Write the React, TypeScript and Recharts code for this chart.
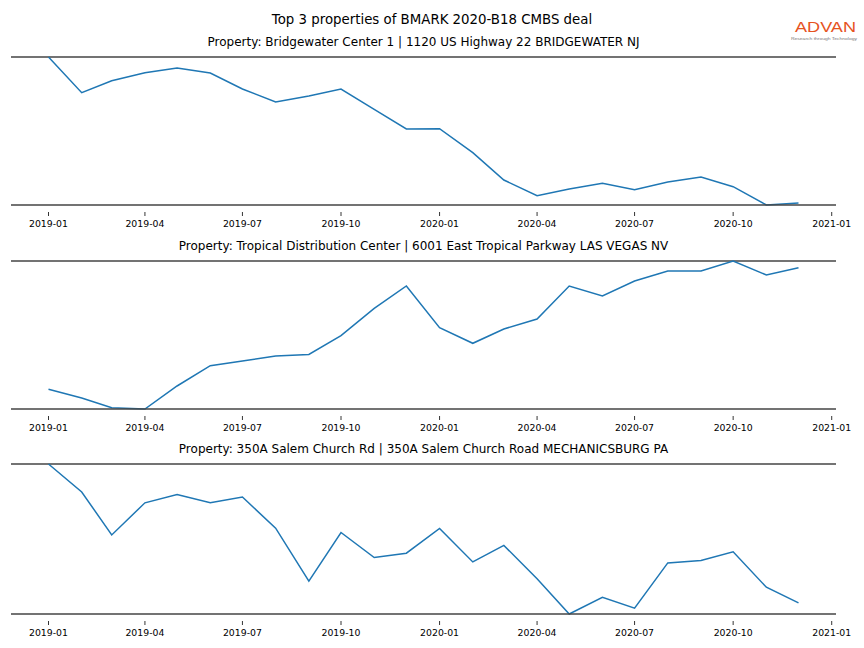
import React from "react";
import { LineChart, Line, XAxis, YAxis, ReferenceLine } from "recharts";

// Monthly observations, 2019-01 .. 2020-12
const months: string[] = [
  "2019-01", "2019-02", "2019-03", "2019-04", "2019-05", "2019-06",
  "2019-07", "2019-08", "2019-09", "2019-10", "2019-11", "2019-12",
  "2020-01", "2020-02", "2020-03", "2020-04", "2020-05", "2020-06",
  "2020-07", "2020-08", "2020-09", "2020-10", "2020-11", "2020-12",
];

const bridgewater: number[] = [
  148, 112.3, 124.3, 132.3, 137, 132, 116, 103, 109, 116, 95.7, 76,
  76.3, 52.3, 25, 9.3, 16, 21.7, 15.3, 23, 28, 18.3, 0, 2,
];

const tropical: number[] = [
  19.7, 11, 1.3, 0, 23, 43.3, 48, 53, 54.5, 73.3, 100.7, 123,
  81.3, 65.7, 80, 90, 123, 113, 128, 138, 138, 148, 134, 141.3,
];

const salemChurch: number[] = [
  148, 120.4, 78, 109.7, 118, 109.7, 115.4, 84.7, 32.4, 80.4, 55.7, 60,
  84.4, 51.4, 67.7, 34.7, 0, 16.4, 5.7, 50.4, 52.7, 61.4, 26.4, 11,
];

const tickLabels: string[] = [
  "2019-01", "2019-04", "2019-07", "2019-10", "2020-01",
  "2020-04", "2020-07", "2020-10", "2021-01",
];

const mainTitle = "Top 3 properties of BMARK 2020-B18 CMBS deal";
const subTitles: string[] = [
  "Property: Bridgewater Center 1 | 1120 US Highway 22 BRIDGEWATER NJ",
  "Property: Tropical Distribution Center | 6001 East Tropical Parkway LAS VEGAS NV",
  "Property: 350A Salem Church Rd | 350A Salem Church Road MECHANICSBURG PA",
];

const toTs = (s: string) => {
  const [y, m] = s.split("-").map(Number);
  return Date.UTC(y, m - 1, 1);
};

const DAY = 86400000;
const xs = months.map(toTs);
const span = xs[xs.length - 1] - xs[0];
const xDomain: [number, number] = [xs[0] - span * 0.05, xs[xs.length - 1] + span * 0.05];
const tickTs = tickLabels.map(toTs);

const fmt = (v: number) => {
  const d = new Date(v + DAY);
  const y = d.getUTCFullYear();
  const m = d.getUTCMonth() + 1;
  return `${y}-${m < 10 ? "0" + m : m}`;
};

const FONT = "DejaVu Sans, Verdana, sans-serif";
const SPINE = "#444";

const Tick = (props: any) => {
  const { x, y, payload } = props;
  return (
    <g>
      <line x1={x} x2={x} y1={y + 7} y2={y + 11} stroke="#000" strokeWidth={0.8} />
      <text x={x} y={y + 21.7} textAnchor="middle" fontSize={9.33} fontFamily={FONT} fill="#000">
        {fmt(payload.value)}
      </text>
    </g>
  );
};

const buildData = (vals: number[]) => xs.map((t, i) => ({ t, v: vals[i] }));

const Panel = ({ vals, top, plotH }: { vals: number[]; top: number; plotH: number }) => {
  const mTop = 5;
  const vMax = Math.max(...vals);
  return (
    <div style={{ position: "absolute", left: 0, top: top - mTop }}>
      <LineChart
        width={864}
        height={mTop + plotH + 30}
        data={buildData(vals)}
        margin={{ top: mTop, right: 28, left: 11, bottom: 0 }}
      >
        <XAxis
          dataKey="t"
          type="number"
          scale="time"
          domain={xDomain}
          ticks={tickTs}
          interval={0}
          allowDataOverflow
          height={30}
          tickSize={0}
          tickMargin={0}
          tickLine={false}
          axisLine={{ stroke: SPINE, strokeWidth: 1.6 }}
          tick={<Tick />}
        />
        <YAxis hide domain={["dataMin", "dataMax"]} />
        <ReferenceLine y={vMax} stroke={SPINE} strokeWidth={1.6} ifOverflow="extendDomain" />
        <Line
          type="linear"
          dataKey="v"
          stroke="#1f77b4"
          strokeWidth={1.5}
          dot={false}
          activeDot={false}
          isAnimationActive={false}
        />
      </LineChart>
    </div>
  );
};

export default function App() {
  return (
    <div
      style={{
        position: "absolute",
        left: 0,
        top: 0,
        width: 864,
        height: 648,
        background: "#fff",
        overflow: "hidden",
      }}
    >
      <Panel vals={bridgewater} top={57} plotH={148} />
      <Panel vals={tropical} top={261} plotH={148} />
      <Panel vals={salemChurch} top={464} plotH={150} />
      <svg
        width={864}
        height={648}
        style={{ position: "absolute", left: 0, top: 0, pointerEvents: "none" }}
      >
        <text x={432} y={24.3} textAnchor="middle" fontSize={13.33} fontFamily={FONT} fill="#000">
          {mainTitle}
        </text>
        <text x={423.5} y={45.7} textAnchor="middle" fontSize={12} fontFamily={FONT} fill="#000">
          {subTitles[0]}
        </text>
        <text x={423.5} y={249.7} textAnchor="middle" fontSize={12} fontFamily={FONT} fill="#000">
          {subTitles[1]}
        </text>
        <text x={423.5} y={453.2} textAnchor="middle" fontSize={12} fontFamily={FONT} fill="#000">
          {subTitles[2]}
        </text>
        <text
          x={795}
          y={31.7}
          fontSize={15.5}
          fontFamily="Liberation Sans, Arial, sans-serif"
          fill="#e6531f"
          textLength={61}
          lengthAdjust="spacingAndGlyphs"
        >
          ADVAN
        </text>
        <text
          x={791}
          y={39.8}
          fontSize={4.3}
          fontFamily="Liberation Sans, Arial, sans-serif"
          fill="#777"
          textLength={66}
          lengthAdjust="spacingAndGlyphs"
        >
          Research through Technology
        </text>
      </svg>
    </div>
  );
}
